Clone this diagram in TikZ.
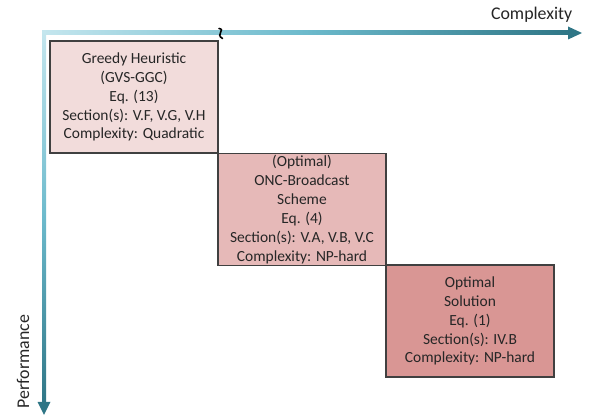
\documentclass[tikz,border=0pt]{standalone}
\usepackage{fontspec}
\setmainfont{Carlito}
\usepackage{tikz}
\usetikzlibrary{positioning}

\definecolor{axislight}{HTML}{C4E6EE}
\definecolor{axismid}{HTML}{6CBACC}
\definecolor{axisdark}{HTML}{2F7686}
\definecolor{boxlight}{HTML}{F2DCDB}
\definecolor{boxmid}{HTML}{E6B9B8}
\definecolor{boxdark}{HTML}{D99694}
\definecolor{boxline}{HTML}{404040}

\tikzset{
    stagebox/.style={draw=boxline, line width=1.1pt, minimum width=126pt,
        minimum height=84pt, align=center, inner sep=0pt,
        font=\fontsize{11.6}{14.2}\selectfont, text=black!85},
    axislabel/.style={font=\fontsize{13.4}{15}\selectfont, text=black!85}
}

\begin{document}
\begin{tikzpicture}[x=0.75pt, y=-0.75pt]
    \useasboundingbox (0,0) rectangle (590,420);

    % Achsen
    \shade[left color=axislight, right color=axisdark, middle color=axismid]
        (42,31) rectangle (570,35);
    \fill[axisdark] (568,26.5) -- (582,33) -- (568,39.5) -- cycle;
    \shade[top color=axislight, bottom color=axisdark, middle color=axismid]
        (42,31) rectangle (46,404);
    \fill[axisdark] (37.5,402) -- (44,415) -- (50.5,402) -- cycle;

    % Bruch
    \draw[line width=1.2pt, line cap=round]
        (219,28.5) .. controls (226,29.5) and (215,34.5) .. (222.5,38.5);

    \node[axislabel, anchor=east] (complexity) at (577,15) {Complexity};
    \node[axislabel, rotate=90, anchor=west] (performance) at (23,413) {Performance};

    % Verfahren
    \node[stagebox, fill=boxlight] (greedy) at (134,97)
        {Greedy Heuristic\\(GVS-GGC)\\Eq. (13)\\Section(s): V.F, V.G, V.H\\Complexity: Quadratic};
    \node[stagebox, fill=boxmid] (onc) at (302,209.5)
        {(Optimal)\\ONC-Broadcast\\Scheme\\Eq. (4)\\Section(s): V.A, V.B, V.C\\Complexity: NP-hard};
    \node[stagebox, fill=boxdark] (optimal) at (470,321)
        {Optimal\\Solution\\Eq. (1)\\Section(s): IV.B\\Complexity: NP-hard};
\end{tikzpicture}
\end{document}
